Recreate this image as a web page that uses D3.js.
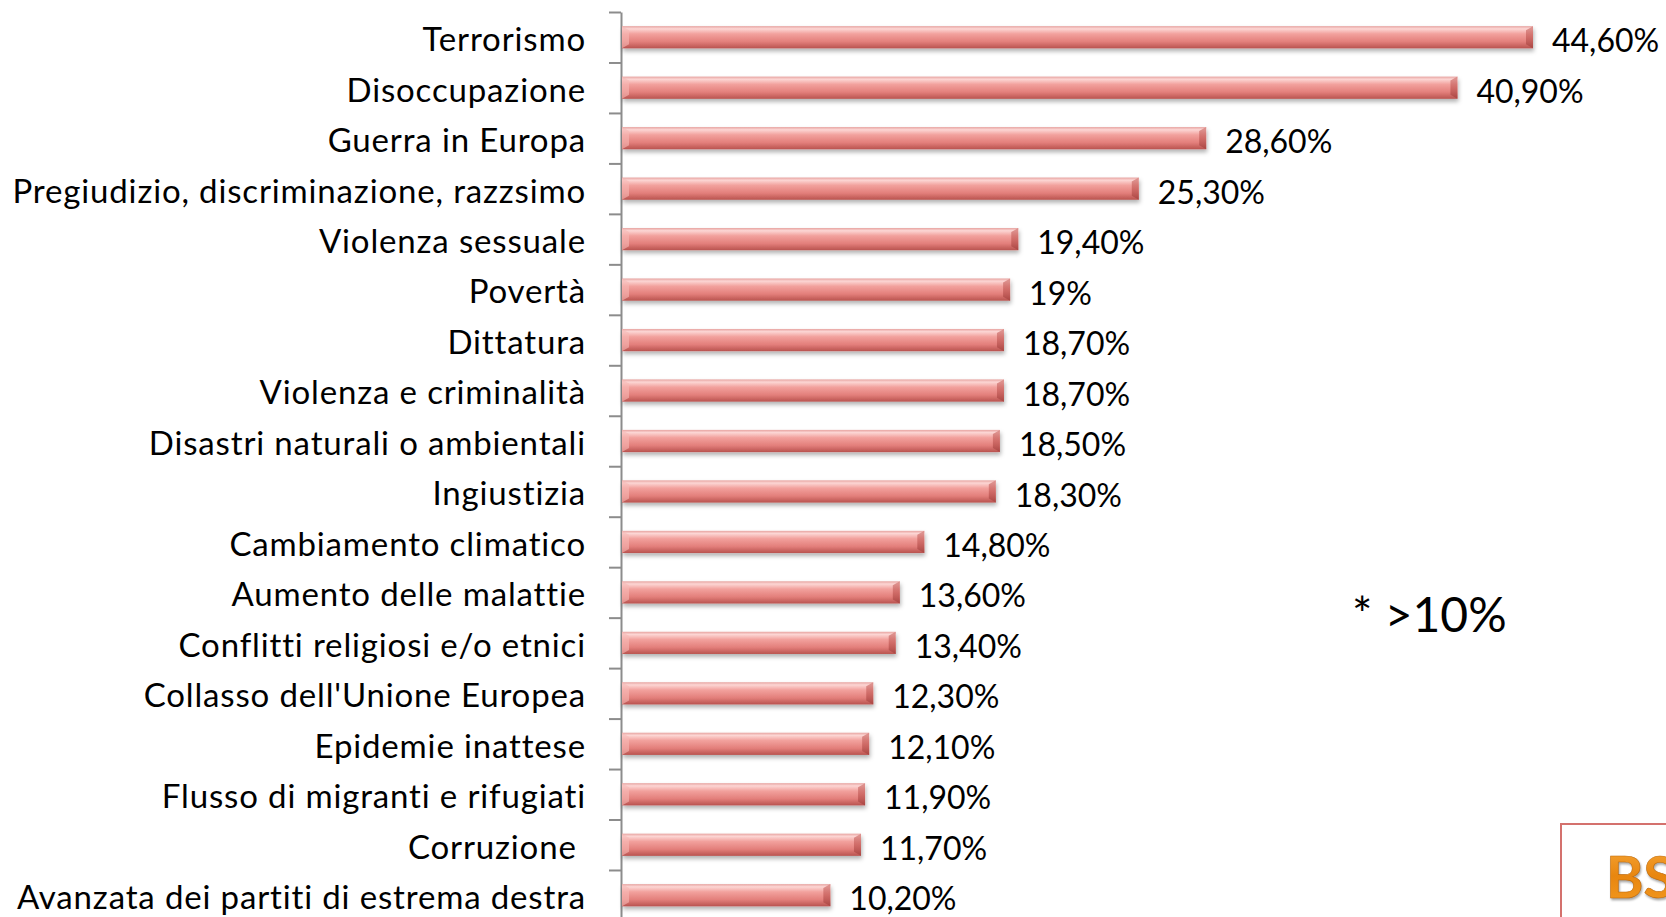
<!DOCTYPE html>
<html>
<head>
<meta charset="utf-8">
<script src="https://cdn.jsdelivr.net/npm/d3@7"></script>
<style>
  body { margin: 0; background: #fff; }
  svg { display: block; font-family: Lato, "Open Sans", sans-serif; }
</style>
</head>
<body>
<svg id="chart" width="1666" height="917"></svg>
<script>
const categories = [
  'Terrorismo', 'Disoccupazione', 'Guerra in Europa',
  'Pregiudizio, discriminazione, razzsimo', 'Violenza sessuale', 'Povertà',
  'Dittatura', 'Violenza e criminalità', 'Disastri naturali o ambientali',
  'Ingiustizia', 'Cambiamento climatico', 'Aumento delle malattie',
  'Conflitti religiosi e/o etnici', "Collasso dell'Unione Europea",
  'Epidemie inattese', 'Flusso di migranti e rifugiati', 'Corruzione ',
  'Avanzata dei partiti di estrema destra'
]
const values = [44.6, 40.9, 28.6, 25.3, 19.4, 19, 18.7, 18.7, 18.5, 18.3,
  14.8, 13.6, 13.4, 12.3, 12.1, 11.9, 11.7, 10.2]
const valueLabels = ['44,60%', '40,90%', '28,60%', '25,30%', '19,40%', '19%',
  '18,70%', '18,70%', '18,50%', '18,30%', '14,80%', '13,60%', '13,40%',
  '12,30%', '12,10%', '11,90%', '11,70%', '10,20%']
const noteText = '* >10%'
const badgeText = 'BS'

const svg = d3.select('#chart')
const topY = 12, step = 50.47
const axisX = 621

const xScale = d3.scaleLinear()
  .domain([0, 44.6])
  .range([axisX + 1, 1533])
const yScale = d3.scaleBand()
  .domain(categories)
  .range([topY, topY + step * categories.length])
  .paddingInner(0.56)
  .paddingOuter(0.28)
const tickScale = d3.scaleLinear()
  .domain([0, categories.length])
  .range([topY, topY + step * categories.length])

// gradients and shadow
const defs = svg.append('defs')
const grad = defs.append('linearGradient').attr('id', 'barGrad')
  .attr('x1', 0).attr('y1', 0).attr('x2', 0).attr('y2', 1)
;[[0, '#e7a3a0'], [0.12, '#fcd6d4'], [0.35, '#f2a19d'], [0.7, '#e37f7b'], [1, '#b9534f']]
  .forEach(s => grad.append('stop').attr('offset', s[0]).attr('stop-color', s[1]))
const capGrad = defs.append('linearGradient').attr('id', 'capGrad')
  .attr('x1', 0).attr('y1', 0).attr('x2', 0).attr('y2', 1)
;[[0, '#d98884'], [0.5, '#c9625e'], [1, '#a4423f']]
  .forEach(s => capGrad.append('stop').attr('offset', s[0]).attr('stop-color', s[1]))
const bsGrad = defs.append('linearGradient').attr('id', 'bsGrad')
  .attr('x1', 0).attr('y1', 0).attr('x2', 0).attr('y2', 1)
;[[0, '#f7a83a'], [0.5, '#e8860f'], [1, '#f49b22']]
  .forEach(s => bsGrad.append('stop').attr('offset', s[0]).attr('stop-color', s[1]))
defs.append('filter').attr('id', 'shadow')
  .attr('x', '-5%').attr('y', '-30%').attr('width', '110%').attr('height', '180%')
  .append('feDropShadow')
  .attr('dx', 1).attr('dy', 3).attr('stdDeviation', 2)
  .attr('flood-color', '#000').attr('flood-opacity', 0.3)

// axis
svg.append('g')
  .attr('transform', 'translate(' + axisX + ',0)')
  .call(d3.axisLeft(tickScale).ticks(categories.length).tickSize(12).tickSizeOuter(0).tickFormat(''))
  .call(g => g.selectAll('path, line').attr('stroke', '#8c8c8c').attr('stroke-width', 2))

// bars
const bars = svg.append('g').selectAll('g')
  .data(categories)
  .join('g')

const bh = yScale.bandwidth()
bars.append('rect')
  .attr('x', xScale(0))
  .attr('y', d => yScale(d))
  .attr('width', (d, i) => xScale(values[i]) - xScale(0))
  .attr('height', bh)
  .attr('fill', 'url(#barGrad)')
  .attr('filter', 'url(#shadow)')

// bevelled right end
bars.append('path')
  .attr('d', (d, i) => {
    const x1 = xScale(values[i]), y0 = yScale(d), y1 = y0 + bh
    return 'M' + (x1 - 7) + ',' + (y0 + 4) + 'L' + x1 + ',' + y0 + 'L' + x1 + ',' + y1 +
      'L' + (x1 - 7) + ',' + (y1 - 4) + 'Z'
  })
  .attr('fill', 'url(#capGrad)')
  .attr('opacity', 0.8)

// lighter bevelled left end
bars.append('path')
  .attr('d', d => {
    const x0 = xScale(0), y0 = yScale(d), y1 = y0 + bh
    return 'M' + x0 + ',' + y0 + 'L' + (x0 + 7) + ',' + (y0 + 4) + 'L' + (x0 + 7) + ',' + (y1 - 4) +
      'L' + x0 + ',' + y1 + 'Z'
  })
  .attr('fill', '#f6b9b6')
  .attr('opacity', 0.6)

// category labels
svg.append('g').selectAll('text')
  .data(categories)
  .join('text')
  .attr('x', 586)
  .attr('y', d => yScale(d) + bh / 2)
  .attr('dy', '0.42em')
  .attr('text-anchor', 'end')
  .attr('font-size', 33)
  .attr('letter-spacing', 0.85)
  .attr('fill', '#000')
  .style('white-space', 'pre')
  .text(d => d)

// value labels
svg.append('g').selectAll('text')
  .data(categories)
  .join('text')
  .attr('x', (d, i) => xScale(values[i]) + 19)
  .attr('y', d => yScale(d) + bh / 2)
  .attr('dy', '0.47em')
  .attr('font-size', 32)
  .attr('fill', '#000')
  .text((d, i) => valueLabels[i])

// note
svg.append('text')
  .attr('x', 1352)
  .attr('y', 632)
  .attr('font-size', 48)
  .attr('fill', '#000')
  .text(noteText)

// BS badge, cut by the page edge
svg.append('rect')
  .attr('x', 1561).attr('y', 824)
  .attr('width', 200).attr('height', 200)
  .attr('fill', '#fff')
  .attr('stroke', '#d4716d')
  .attr('stroke-width', 2)
svg.append('text')
  .attr('x', 1606).attr('y', 898)
  .attr('font-size', 57)
  .attr('font-weight', 'bold')
  .attr('fill', 'url(#bsGrad)')
  .attr('stroke', '#c06a0a')
  .attr('stroke-width', 0.6)
  .style('filter', 'drop-shadow(1px 2px 1px rgba(0,0,0,0.35))')
  .text(badgeText)
</script>
</body>
</html>
